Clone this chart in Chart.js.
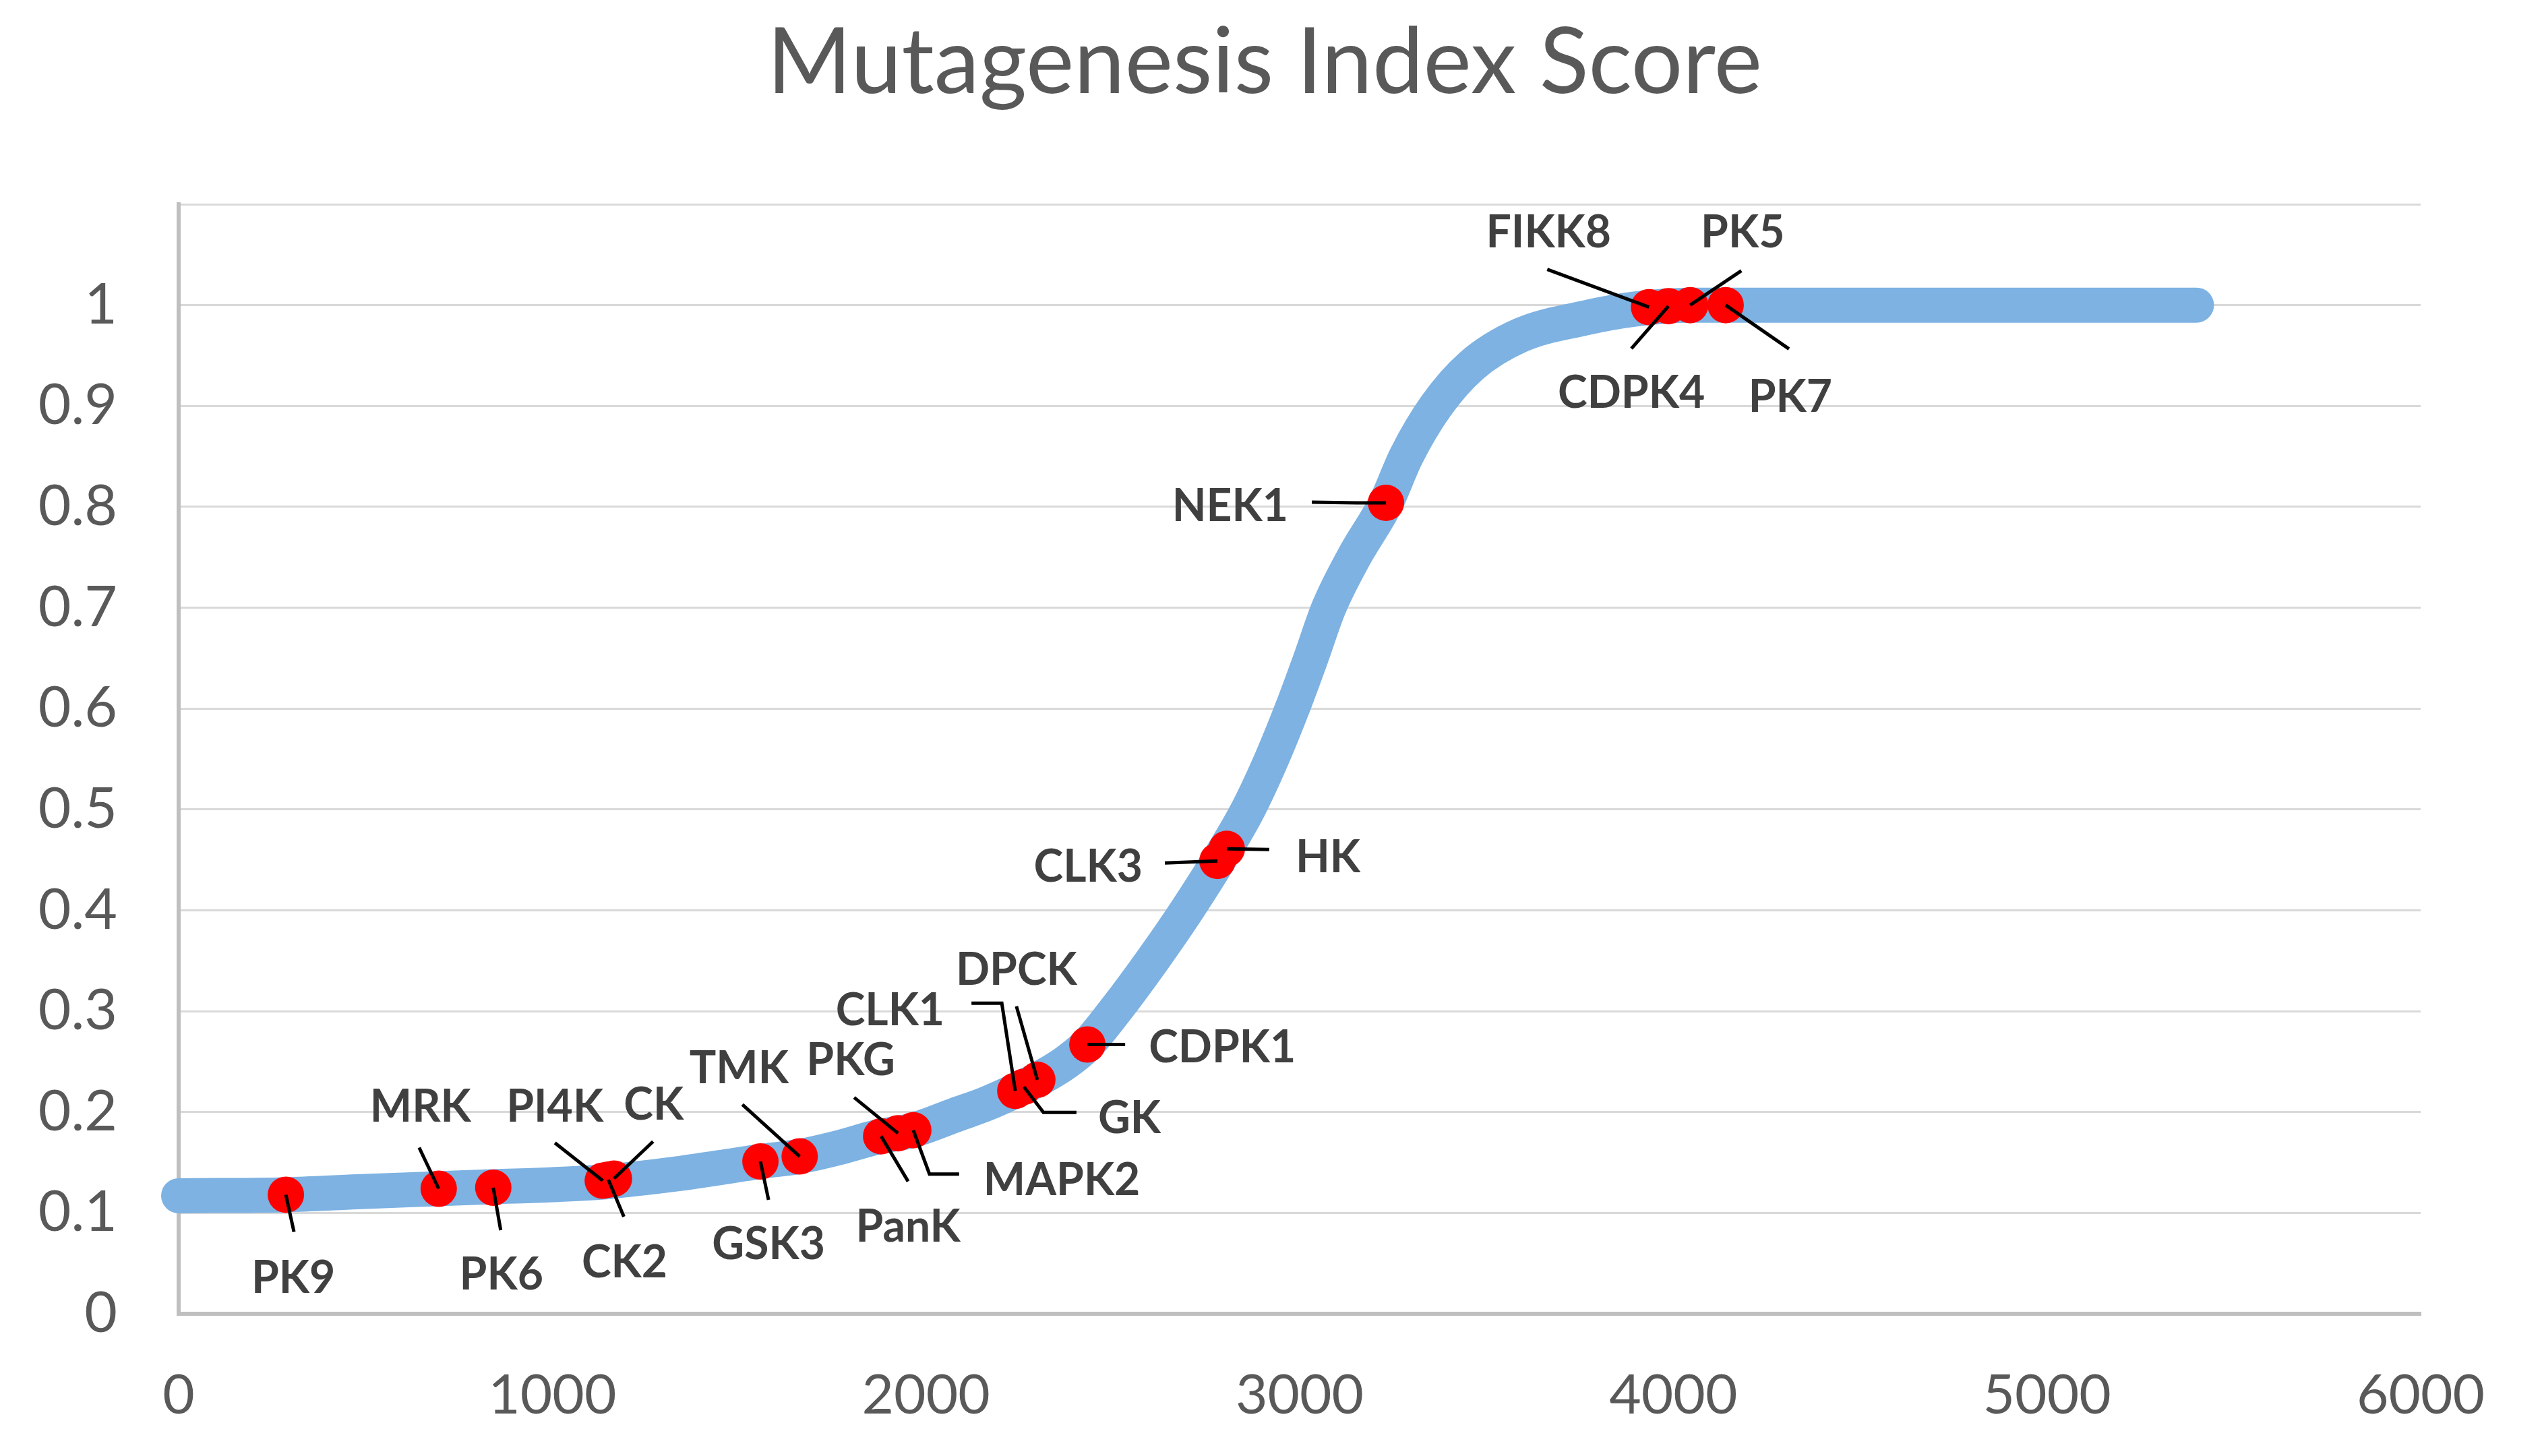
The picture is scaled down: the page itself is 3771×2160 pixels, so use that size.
<!DOCTYPE html>
<html>
<head>
<meta charset="utf-8">
<script src="https://cdn.jsdelivr.net/npm/chart.js@4.4.0/dist/chart.umd.min.js"></script>
<style>
html,body{margin:0;padding:0;background:#ffffff;}
#wrap{width:3771px;height:2160px;}
</style>
</head>
<body>
<div id="wrap"><canvas id="c" width="3771" height="2160"></canvas></div>
<script>
// ---- data ----
const chartTitle = 'Mutagenesis Index Score';
const curveX = [0, 287, 478, 696, 842, 1000, 1146, 1339, 1450, 1557, 1662, 1770, 1867, 1966, 2078, 2160, 2239, 2298, 2370, 2432, 2505, 2605, 2698, 2792, 2862, 2925, 2980, 3030, 3078, 3145, 3231, 3285, 3365, 3460, 3590, 3760, 3895, 4045, 4600, 5400];
const curveY = [0.117, 0.118, 0.121, 0.124, 0.126, 0.128, 0.131, 0.139, 0.145, 0.151, 0.156, 0.165, 0.175, 0.182, 0.197, 0.208, 0.221, 0.232, 0.248, 0.267, 0.300, 0.350, 0.400, 0.455, 0.500, 0.550, 0.600, 0.650, 0.700, 0.750, 0.804, 0.850, 0.900, 0.940, 0.970, 0.987, 0.996, 1.000, 1.000, 1.000];

const kinaseNames = ['PK9','MRK','PK6','PI4K','CK2','CK','GSK3','TMK','PanK','PKG','MAPK2','CLK1','GK','DPCK','CDPK1','CLK3','HK','NEK1','FIKK8','CDPK4','PK5','PK7'];
const kinaseX = [287, 696, 842, 1135, 1150, 1165, 1557, 1662, 1880, 1925, 1966, 2239, 2262, 2298, 2432, 2780, 2805, 3231, 3935, 3987, 4045, 4140];
const kinaseY = [0.118, 0.124, 0.125, 0.132, 0.133, 0.134, 0.151, 0.156, 0.176, 0.179, 0.182, 0.221, 0.225, 0.232, 0.267, 0.449, 0.461, 0.804, 0.998, 0.999, 1.000, 1.000];

const xTickStep = 1000;
const yTickStep = 0.1;

// ---- layout (pixel offsets / positions, kept apart from the data) ----
const titleLayout = {cx: 1876, cy: 94, font: '135px Lato', color: '#595959'};
const labelLayout = {
  PK9:   {line: [[12,55]],             text: [11,120],   align: 'center'},
  MRK:   {line: [[-29,-61]],           text: [-27,-125], align: 'center'},
  PK6:   {line: [[11,63]],             text: [12,126],   align: 'center'},
  PI4K:  {line: [[-71,-56]],           text: [-71,-113], align: 'center'},
  CK:    {line: [[58,-55]],            text: [59,-113],  align: 'center'},
  CK2:   {line: [[23,55]],             text: [24,120],   align: 'center'},
  GSK3:  {line: [[12,57]],             text: [12,120],   align: 'center'},
  TMK:   {line: [[-85,-77]],           text: [-90,-134], align: 'center'},
  PKG:   {line: [[-65,-53]],           text: [-70,-111], align: 'center'},
  PanK:  {line: [[40,67]],             text: [40,131],   align: 'center'},
  MAPK2: {line: [[68,65],[24,65]],     text: [104,71],   align: 'left'},
  CLK1:  {line: [[-65,-130],[-20,-130]], text: [-105,-123], align: 'right'},
  DPCK:  {line: [[-31,-109]],          text: [-31,-166], align: 'center'},
  GK:    {line: [[78,38],[29,38]],     text: [110,43],   align: 'left'},
  CDPK1: {line: [[56,0]],              text: [91,1],     align: 'left'},
  CLK3:  {line: [[-78,3]],             text: [-111,6],   align: 'right'},
  HK:    {line: [[63,1]],              text: [102,10],   align: 'left'},
  NEK1:  {line: [[-110,-1],[-43,0]],   text: [-145,2],   align: 'right'},
  FIKK8: {line: [[-151,-56]],          text: [-149,-114], align: 'center'},
  PK5:   {line: [[76,-51]],            text: [78,-111],  align: 'center'},
  CDPK4: {line: [[-55,63]],            text: [-55,126],  align: 'center'},
  PK7:   {line: [[94,65]],             text: [96,133],   align: 'center'}
};

const labelPlugin = {
  id: 'kinaseLabels',
  afterDatasetsDraw(chart) {
    const ctx = chart.ctx;
    const xs = chart.scales.x, ys = chart.scales.y;
    ctx.save();
    kinaseNames.forEach((name, i) => {
      const L = labelLayout[name];
      if (!L) return;
      const px = xs.getPixelForValue(kinaseX[i]);
      const py = ys.getPixelForValue(kinaseY[i]);
      ctx.beginPath();
      ctx.strokeStyle = '#000000';
      ctx.lineWidth = 5;
      ctx.lineCap = 'butt';
      ctx.lineJoin = 'miter';
      L.line.forEach((p, j) => {
        if (j === 0) ctx.moveTo(px + p[0], py + p[1]);
        else ctx.lineTo(px + p[0], py + p[1]);
      });
      ctx.lineTo(px, py);
      ctx.stroke();
      ctx.font = 'bold 66px Lato';
      ctx.fillStyle = '#404040';
      ctx.textAlign = L.align;
      ctx.textBaseline = 'middle';
      ctx.fillText(name, px + L.text[0], py + L.text[1] + 4);
    });
    ctx.restore();
  }
};

const titlePlugin = {
  id: 'centredTitle',
  afterDraw(chart) {
    const ctx = chart.ctx;
    ctx.save();
    ctx.font = titleLayout.font;
    ctx.fillStyle = titleLayout.color;
    ctx.textAlign = 'center';
    ctx.textBaseline = 'middle';
    ctx.fillText(chartTitle, titleLayout.cx, titleLayout.cy);
    ctx.restore();
  }
};

const ctx = document.getElementById('c').getContext('2d');
new Chart(ctx, {
  type: 'scatter',
  data: {
    datasets: [
      {
        label: 'Kinases',
        data: kinaseNames.map((n, i) => ({x: kinaseX[i], y: kinaseY[i]})),
        pointRadius: 27,
        pointHoverRadius: 27,
        backgroundColor: '#FF0000',
        borderWidth: 0,
        order: 0,
        clip: false
      },
      {
        label: chartTitle,
        data: curveX.map((x, i) => ({x: x, y: curveY[i]})),
        showLine: true,
        pointRadius: 0,
        pointHoverRadius: 0,
        borderColor: '#7DB2E2',
        backgroundColor: '#7DB2E2',
        borderWidth: 52,
        borderCapStyle: 'round',
        borderJoinStyle: 'round',
        cubicInterpolationMode: 'monotone',
        order: 1,
        clip: false
      }
    ]
  },
  options: {
    responsive: false,
    animation: false,
    devicePixelRatio: 1,
    events: [],
    layout: {padding: {left: 0, right: 180, top: 303, bottom: 0}},
    plugins: {
      legend: {display: false},
      tooltip: {enabled: false},
      title: {display: false}
    },
    scales: {
      x: {
        type: 'linear',
        min: 0,
        max: 6000,
        ticks: {
          stepSize: xTickStep,
          color: '#595959',
          font: {family: 'Lato', size: 82},
          padding: 72,
          maxRotation: 0,
          callback: v => String(v)
        },
        grid: {display: false, drawTicks: false},
        border: {display: true, color: '#BFBFBF', width: 6},
        afterFit(s) { s.height = 211; }
      },
      y: {
        type: 'linear',
        min: 0,
        max: 1.1,
        ticks: {
          stepSize: yTickStep,
          color: '#595959',
          font: {family: 'Lato', size: 84},
          padding: 91,
          callback: v => (v > 1.05 ? '' : String(Math.round(v * 10) / 10))
        },
        grid: {color: '#D9D9D9', lineWidth: 3, drawTicks: false},
        border: {display: true, color: '#BFBFBF', width: 6},
        afterFit(s) { s.width = 265; }
      }
    }
  },
  plugins: [labelPlugin, titlePlugin]
});
</script>
</body>
</html>
